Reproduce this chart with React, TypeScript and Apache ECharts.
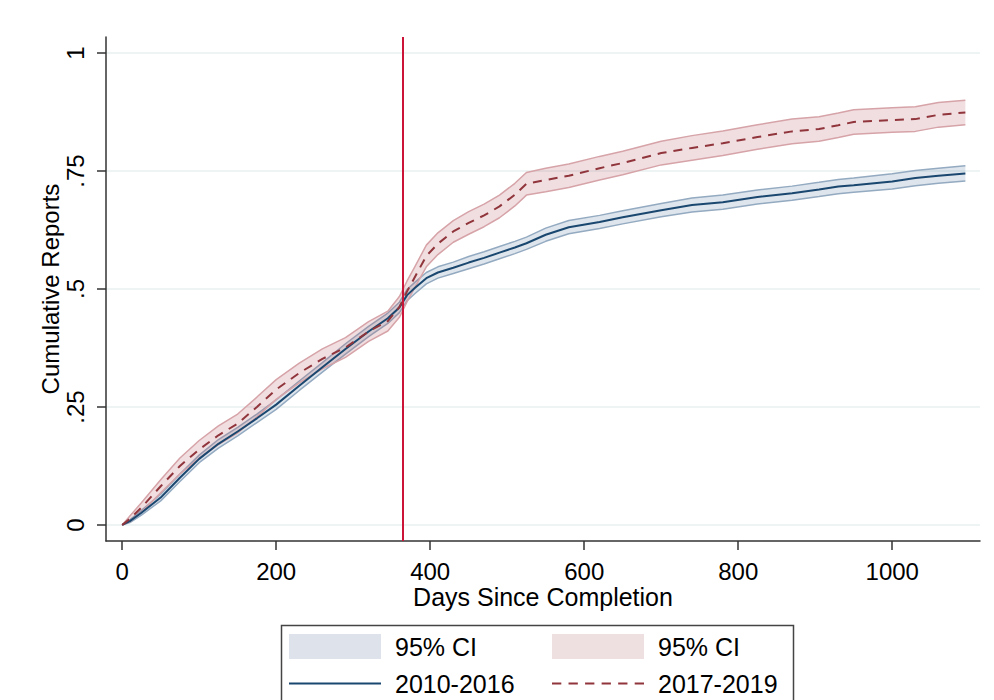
import React, { useEffect, useRef } from "react";
import * as echarts from "echarts";

// Days since completion (x) for sampled points
const days = [0, 10, 25, 50, 75, 100, 125, 150, 175, 200, 230, 260, 290, 320, 345, 360, 370, 380, 395, 410, 430, 450, 470, 490, 510, 525, 550, 580, 620, 650, 700, 740, 780, 825, 870, 905, 930, 950, 1000, 1030, 1060, 1095];

// 2010-2016 cumulative reports and 95% CI
const blueMean = [0, 0.008, 0.026, 0.058, 0.1, 0.14, 0.172, 0.198, 0.226, 0.255, 0.295, 0.334, 0.373, 0.41, 0.438, 0.461, 0.487, 0.502, 0.523, 0.535, 0.545, 0.556, 0.566, 0.577, 0.588, 0.597, 0.615, 0.631, 0.642, 0.652, 0.667, 0.678, 0.684, 0.695, 0.703, 0.711, 0.717, 0.72, 0.728, 0.735, 0.74, 0.745];
const blueLo = [0, 0.005, 0.021, 0.051, 0.092, 0.132, 0.163, 0.189, 0.217, 0.245, 0.285, 0.324, 0.362, 0.399, 0.427, 0.45, 0.475, 0.49, 0.511, 0.523, 0.533, 0.543, 0.553, 0.564, 0.575, 0.584, 0.601, 0.617, 0.628, 0.638, 0.653, 0.663, 0.669, 0.68, 0.688, 0.696, 0.702, 0.705, 0.712, 0.719, 0.724, 0.729];
const blueHi = [0, 0.011, 0.031, 0.065, 0.108, 0.148, 0.181, 0.207, 0.235, 0.265, 0.305, 0.344, 0.384, 0.421, 0.449, 0.472, 0.499, 0.514, 0.535, 0.547, 0.557, 0.569, 0.579, 0.59, 0.601, 0.61, 0.629, 0.645, 0.656, 0.666, 0.681, 0.693, 0.699, 0.71, 0.718, 0.726, 0.732, 0.735, 0.744, 0.751, 0.756, 0.761];

// 2017-2019 cumulative reports and 95% CI
const redMean = [0, 0.013, 0.037, 0.082, 0.125, 0.16, 0.19, 0.215, 0.25, 0.287, 0.322, 0.352, 0.376, 0.41, 0.432, 0.462, 0.495, 0.525, 0.57, 0.596, 0.622, 0.64, 0.656, 0.675, 0.7, 0.723, 0.731, 0.74, 0.756, 0.767, 0.788, 0.799, 0.809, 0.822, 0.834, 0.839, 0.847, 0.854, 0.858, 0.86, 0.869, 0.874];
const redLo = [0, 0.007, 0.027, 0.068, 0.108, 0.141, 0.17, 0.195, 0.229, 0.266, 0.301, 0.331, 0.355, 0.389, 0.411, 0.44, 0.473, 0.503, 0.547, 0.573, 0.599, 0.616, 0.632, 0.651, 0.676, 0.699, 0.706, 0.715, 0.731, 0.742, 0.763, 0.773, 0.783, 0.796, 0.808, 0.813, 0.821, 0.828, 0.832, 0.834, 0.843, 0.848];
const redHi = [0, 0.019, 0.047, 0.096, 0.142, 0.179, 0.21, 0.235, 0.271, 0.308, 0.343, 0.373, 0.397, 0.431, 0.453, 0.484, 0.517, 0.547, 0.593, 0.619, 0.645, 0.664, 0.68, 0.699, 0.724, 0.747, 0.756, 0.765, 0.781, 0.792, 0.813, 0.825, 0.835, 0.848, 0.86, 0.865, 0.873, 0.88, 0.884, 0.886, 0.895, 0.9];

const xTicks = [0, 200, 400, 600, 800, 1000];
const yTicks = [0, 0.25, 0.5, 0.75, 1];
const yTickLabels = ["0", ".25", ".5", ".75", "1"];
const cutoffDay = 365;

const FONT = "'Liberation Sans', Arial, sans-serif";
const BLUE = "#1a476f";
const RED = "#90353b";
const BLUE_EDGE = "#93aac1";
const RED_EDGE = "#d6a3a8";
const BLUE_FILL = "rgba(70,110,150,0.18)";
const RED_FILL = "rgba(185,90,100,0.2)";
const SOLID_ICON = "path://M0,0H92V2H0Z";
const DASH_ICON = "path://M0,0h9v2h-9z M16,0h9v2h-9z M32,0h9v2h-9z M48,0h9v2h-9z M64,0h9v2h-9z M80,0h9v2h-9z";

export default function App() {
  const ref = useRef<HTMLDivElement>(null);

  useEffect(() => {
    if (!ref.current) return;
    const chart = echarts.init(ref.current, undefined, { renderer: "svg" });

    const pts = (ys: number[]) => days.map((d, i) => [d, ys[i]]);
    const band = (lo: number[], hi: number[], fill: string) => (params: any, api: any) => {
      const upper = days.map((d, i) => api.coord([d, hi[i]]));
      const lower = days.map((d, i) => api.coord([d, lo[i]])).reverse();
      return {
        type: "polygon",
        shape: { points: upper.concat(lower) },
        style: { fill, stroke: "none" },
      };
    };

    const axisLineStyle = { color: "#333", width: 1.5 };
    const legendText = { fontSize: 25, color: "#000", fontFamily: FONT, lineHeight: 25, padding: [0, 0, 0, 9] };
    const legendBase = {
      itemWidth: 92,
      itemHeight: 25,
      padding: 0,
      selectedMode: false,
      symbolKeepAspect: true,
      formatter: (n: string) => n.trim(),
      textStyle: legendText,
    };

    const option: any = {
      animation: false,
      backgroundColor: "#fff",
      textStyle: { fontFamily: FONT },
      grid: { left: 106, right: 14, top: 37, bottom: 159, containLabel: false },
      xAxis: {
        type: "value",
        min: -21,
        max: 1114,
        name: "Days Since Completion",
        nameLocation: "middle",
        nameGap: 46,
        nameMoveOverlap: false,
        nameTextStyle: { fontSize: 25, lineHeight: 20, color: "#000", fontFamily: FONT },
        axisLine: { show: true, onZero: false, lineStyle: axisLineStyle },
        axisTick: { show: true, length: 9, customValues: xTicks, lineStyle: axisLineStyle },
        axisLabel: {
          customValues: xTicks,
          fontSize: 24,
          lineHeight: 20,
          color: "#000",
          margin: 20,
          fontFamily: FONT,
          formatter: (v: number) => String(v),
        },
        splitLine: { show: false },
      },
      yAxis: {
        type: "value",
        min: -0.034,
        max: 1.034,
        name: "Cumulative Reports",
        nameLocation: "middle",
        nameGap: 44,
        nameMoveOverlap: false,
        nameRotate: 90,
        nameTextStyle: { fontSize: 24, color: "#000", fontFamily: FONT },
        axisLine: { show: true, onZero: false, lineStyle: axisLineStyle },
        axisTick: { show: true, length: 9, customValues: yTicks, lineStyle: axisLineStyle },
        axisLabel: {
          customValues: yTicks,
          rotate: 90,
          fontSize: 24,
          color: "#000",
          margin: 19,
          fontFamily: FONT,
          formatter: (v: number) => {
            const idx = yTicks.findIndex((t) => Math.abs(t - v) < 1e-9);
            return idx >= 0 ? yTickLabels[idx] : "";
          },
        },
        splitLine: { show: false },
      },
      legend: [
        {
          ...legendBase,
          left: 289,
          top: 634,
          data: [{ name: "95% CI", icon: "rect", itemStyle: { color: "#dee3eb", borderWidth: 0 } }],
        },
        {
          ...legendBase,
          left: 552,
          top: 634,
          data: [{ name: "95% CI ", icon: "rect", itemStyle: { color: "#eee0e1", borderWidth: 0 } }],
        },
        {
          ...legendBase,
          left: 289,
          top: 671,
          data: [{ name: "2010-2016", icon: SOLID_ICON, itemStyle: { color: BLUE, borderWidth: 0 } }],
        },
        {
          ...legendBase,
          left: 552,
          top: 671,
          data: [{ name: "2017-2019", icon: DASH_ICON, itemStyle: { color: RED, borderWidth: 0 } }],
        },
      ],
      graphic: [
        {
          type: "rect",
          left: 279,
          top: 623,
          shape: { width: 512, height: 100 },
          style: { fill: "none", stroke: "#444", lineWidth: 1.5 },
          silent: true,
        },
      ],
      series: [
        {
          name: "grid",
          type: "line",
          data: [],
          z: 0,
          silent: true,
          markLine: {
            silent: true,
            z: 0,
            symbol: ["none", "none"],
            label: { show: false },
            lineStyle: { color: "#e8f0f1", width: 1.5, type: "solid" },
            data: yTicks.map((v) => ({ yAxis: v })),
          },
        },
        {
          name: "95% CI",
          type: "custom",
          data: [[0, 0]],
          z: 2,
          silent: true,
          color: "#dee3eb",
          renderItem: band(blueLo, blueHi, BLUE_FILL),
        },
        {
          name: "blueLoEdge",
          type: "line",
          data: pts(blueLo),
          symbol: "none",
          z: 2,
          lineStyle: { color: BLUE_EDGE, width: 1.5 },
        },
        {
          name: "blueHiEdge",
          type: "line",
          data: pts(blueHi),
          symbol: "none",
          z: 2,
          lineStyle: { color: BLUE_EDGE, width: 1.5 },
        },
        {
          name: "95% CI ",
          type: "custom",
          data: [[0, 0]],
          z: 3,
          silent: true,
          color: "#eee0e1",
          renderItem: band(redLo, redHi, RED_FILL),
        },
        {
          name: "redLoEdge",
          type: "line",
          data: pts(redLo),
          symbol: "none",
          z: 3,
          lineStyle: { color: RED_EDGE, width: 1.5 },
        },
        {
          name: "redHiEdge",
          type: "line",
          data: pts(redHi),
          symbol: "none",
          z: 3,
          lineStyle: { color: RED_EDGE, width: 1.5 },
        },
        {
          name: "2010-2016",
          type: "line",
          data: pts(blueMean),
          symbol: "none",
          z: 4,
          color: BLUE,
          lineStyle: { color: BLUE, width: 2 },
        },
        {
          name: "2017-2019",
          type: "line",
          data: pts(redMean),
          symbol: "none",
          z: 5,
          color: RED,
          lineStyle: { color: RED, width: 2, type: [9, 7] },
          markLine: {
            silent: true,
            symbol: ["none", "none"],
            label: { show: false },
            lineStyle: { color: "#cc1438", width: 2, type: "solid" },
            data: [{ xAxis: cutoffDay }],
          },
        },
      ],
    };

    chart.setOption(option);
    return () => chart.dispose();
  }, []);

  return (
    <div
      ref={ref}
      style={{ position: "fixed", left: 0, top: 0, width: 994, height: 700, background: "#fff" }}
    />
  );
}
